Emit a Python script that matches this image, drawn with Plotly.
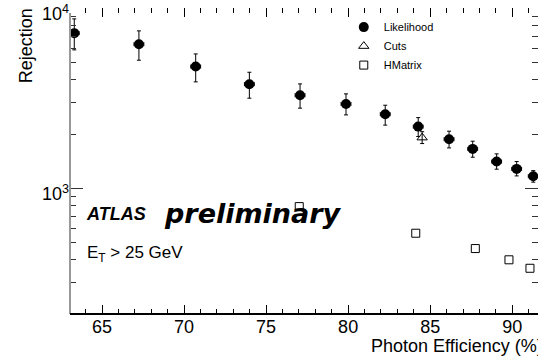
import plotly.graph_objects as go

# ---- data ----
lik_eff = [63.31, 67.25, 70.71, 73.98, 77.07, 79.87, 82.26, 84.27, 86.15, 87.59, 89.05, 90.27, 91.28]
lik_rej = [7265, 6310, 4738, 3783, 3286, 2938, 2577, 2198, 1872, 1653, 1406, 1280, 1166]
lik_rej_hi = [8720, 7480, 5570, 4406, 3796, 3342, 2890, 2466, 2073, 1824, 1551, 1406, 1252]
lik_rej_lo = [5865, 5140, 3896, 3162, 2783, 2553, 2240, 1936, 1674, 1486, 1275, 1170, 1080]
lik_eff_err = [0.3, 0.3, 0.3, 0.3, 0.3, 0.3, 0.3, 0.3, 0.3, 0.3, 0.3, 0.3, 0.3]

cuts_eff = [84.51]
cuts_rej = [1910]
cuts_rej_hi = [2060]
cuts_rej_lo = [1770]

hm_eff = [77.02, 84.12, 87.75, 89.80, 91.08]
hm_rej = [790, 562, 462, 400, 359]

x_major = [65, 70, 75, 80, 85, 90]
y_major = [1000, 10000]
y_major_text = ["10<sup>3</sup>", "10<sup>4</sup>"]
y_minor = [200, 300, 400, 500, 600, 700, 800, 900,
           2000, 3000, 4000, 5000, 6000, 7000, 8000, 9000]

FONT = "Liberation Sans, Arial, sans-serif"

fig = go.Figure()

fig.add_trace(go.Scatter(
    x=hm_eff, y=hm_rej, mode="markers", name="HMatrix",
    marker=dict(symbol="square-open", size=8, color="black", line=dict(width=1)),
    legendgroup="c", legendrank=3,
))
fig.add_trace(go.Scatter(
    x=cuts_eff, y=cuts_rej, mode="markers", name="Cuts",
    marker=dict(symbol="triangle-up-open", size=9, color="black", line=dict(width=1)),
    error_y=dict(type="data", symmetric=False,
                 array=[h - v for h, v in zip(cuts_rej_hi, cuts_rej)],
                 arrayminus=[v - l for v, l in zip(cuts_rej, cuts_rej_lo)],
                 color="black", thickness=1, width=2),
    legendgroup="b", legendrank=2,
))
fig.add_trace(go.Scatter(
    x=lik_eff, y=lik_rej, mode="markers", name="Likelihood",
    marker=dict(symbol="circle", size=10, color="black"),
    error_y=dict(type="data", symmetric=False,
                 array=[h - v for h, v in zip(lik_rej_hi, lik_rej)],
                 arrayminus=[v - l for v, l in zip(lik_rej, lik_rej_lo)],
                 color="black", thickness=1, width=2),
    error_x=dict(type="data", array=lik_eff_err, color="black", thickness=1, width=2),
    legendgroup="a", legendrank=1,
))

fig.update_layout(
    width=538, height=357,
    margin=dict(l=70, r=0, t=8, b=43),
    paper_bgcolor="white", plot_bgcolor="white",
    font=dict(family=FONT, size=18, color="black"),
    showlegend=True,
    legend=dict(x=0.585, y=0.985, xanchor="left", yanchor="top",
                font=dict(family=FONT, size=11, color="black"),
                bgcolor="rgba(0,0,0,0)", tracegroupgap=0,
                itemsizing="trace"),
    xaxis=dict(range=[63.05, 91.57], tickmode="array", tickvals=x_major,
               ticks="inside", ticklen=9, tickwidth=1, tickcolor="black",
               minor=dict(dtick=1, tick0=65, ticks="inside", ticklen=5,
                          tickwidth=1, tickcolor="black", showgrid=False),
               showgrid=False, zeroline=False, showline=False, mirror="ticks",
               tickfont=dict(family=FONT, size=18, color="black")),
    yaxis=dict(type="log", range=[2.30103, 4.001], tickmode="array",
               tickvals=y_major, ticktext=y_major_text,
               ticks="inside", ticklen=13, tickwidth=1, tickcolor="#333",
               ticklabelshift=6, ticklabeloverflow="allow",
               minor=dict(tickmode="array", tickvals=y_minor, ticks="inside",
                          ticklen=6, tickwidth=1, tickcolor="#333", showgrid=False),
               showgrid=False, zeroline=False, showline=False, mirror="ticks",
               tickfont=dict(family=FONT, size=18, color="black")),
    shapes=[
        dict(type="line", xref="paper", yref="paper", x0=0, x1=0, y0=0, y1=0.984,
             line=dict(color="#999999", width=2)),
        dict(type="line", xref="paper", yref="paper", x0=0, x1=1, y0=0, y1=0,
             line=dict(color="black", width=2)),
    ],
    annotations=[
        dict(text="Photon Efficiency (%)", xref="paper", yref="paper",
             x=1.015, y=-0.105, xanchor="right", yanchor="middle", showarrow=False,
             font=dict(family=FONT, size=18, color="black")),
        dict(text="Rejection", xref="paper", yref="paper", textangle=-90,
             x=-0.095, y=0.877, xanchor="center", yanchor="middle", showarrow=False,
             font=dict(family=FONT, size=18, color="black")),
        dict(text="ATLAS", xref="paper", yref="paper",
             x=0.03, y=0.327, xanchor="left", yanchor="middle", showarrow=False,
             font=dict(family=FONT, size=18, color="black", weight="bold", style="italic")),
        dict(text="preliminary", xref="paper", yref="paper",
             x=0.197, y=0.327, xanchor="left", yanchor="middle", showarrow=False,
             font=dict(family="DejaVu Sans", size=27, color="black", weight="bold", style="italic")),
        dict(text="E<sub>T</sub> &gt; 25 GeV", xref="paper", yref="paper",
             x=0.032, y=0.196, xanchor="left", yanchor="middle", showarrow=False,
             font=dict(family=FONT, size=17, color="black")),
    ],
)

fig.write_html("out.html")
